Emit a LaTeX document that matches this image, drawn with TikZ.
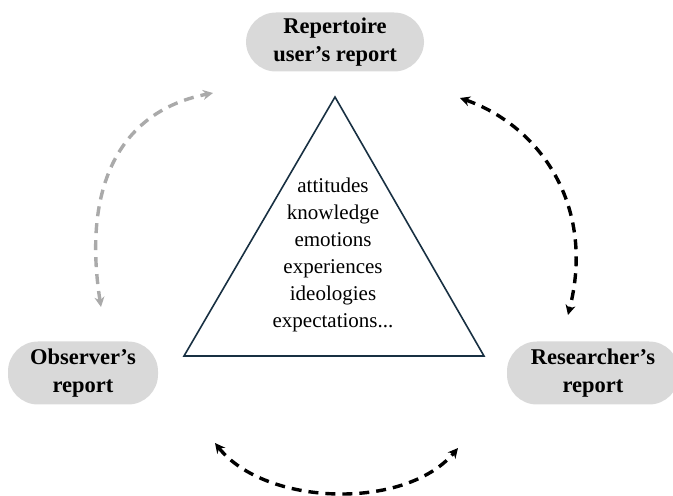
\documentclass[tikz,border=0pt]{standalone}
\usepackage{fontspec}
\setmainfont{Liberation Serif}
\usetikzlibrary{arrows.meta}
\definecolor{pillgray}{RGB}{217,217,217}
\definecolor{arcgray}{RGB}{170,170,170}
\definecolor{navy}{RGB}{24,48,66}
\begin{document}
\begin{tikzpicture}[x=1pt,y=1pt,
    report/.style ={rectangle, rounded corners=30pt, fill=pillgray, align=center,
                    font=\fontsize{22.5}{28}\selectfont\bfseries, inner sep=0pt},
    cycle/.style ={line width=3.4pt, dash pattern=on 10pt off 7pt,
                   {Stealth[length=10pt,width=10pt]}-{Stealth[length=10pt,width=10pt]}}]
   \useasboundingbox (0,0) rectangle (673,496);
   % the three reports
   \node[report, minimum width=178pt, minimum height=59pt] (user) at (335,454)
      {Repertoire\\user's report};
   \node[report, minimum width=150pt, minimum height=63pt] (observer) at (83,123)
      {Observer's\\report};
   \node[report, minimum width=172pt, minimum height=63pt] (researcher) at (593,123)
      {Researcher's\\report};
   % triangle
   \coordinate (apex) at (335,399);
   \coordinate (left) at (184,140);
   \coordinate (right) at (484,140);
   \draw[navy, line width=1.6pt, line join=miter] (apex) -- (left) -- (right) -- cycle;
   \node[align=center, font=\fontsize{21}{27}\selectfont] (aspects) at (333,241.5)
      {attitudes\\knowledge\\emotions\\experiences\\ideologies\\expectations...};
   % arrows
   \coordinate (g1) at (101,189);
   \coordinate (g2) at (213,403);
   \coordinate (r1) at (460,398);
   \coordinate (r2) at (568,181);
   \coordinate (b1) at (215,53);
   \coordinate (b2) at (458,48);
   \draw[cycle, arcgray] (g1) .. controls (82,310) and (120,385) .. (g2);
   \draw[cycle, black] (r1) .. controls (540,370) and (596,290) .. (r2);
   \draw[cycle, black] (b1) .. controls (265,-10) and (405,-15) .. (b2);
 \end{tikzpicture}
\end{document}
